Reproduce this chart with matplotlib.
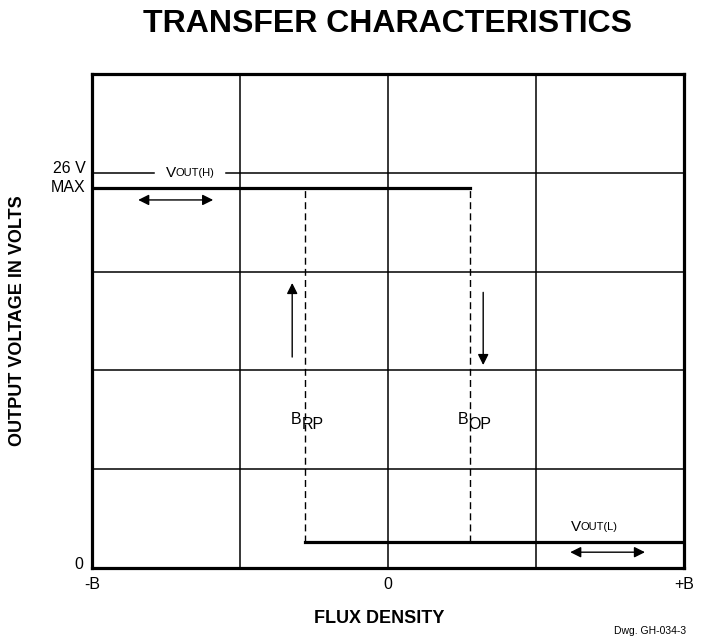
import matplotlib
matplotlib.use("Agg")
import matplotlib.pyplot as plt

plt.rcParams['font.family'] = ['Liberation Sans', 'DejaVu Sans']

# Значения кривой (в условных единицах сетки)
b_range = [-4, 4]          # -B ... +B
v_range = [0, 5]
v_high = 3.85              # уровень VOUT(H)
v_low = 0.27               # уровень VOUT(L)
v_max = 4                  # линия 26 V MAX
b_rp = -1.12               # точка отпускания
b_op = 1.1                 # точка срабатывания
grid_x = [-2, 0, 2]
grid_y = [1, 2, 3]
x_ticks = [-4, 0, 4]
x_tick_labels = ["-B", "0", "+B"]

fig = plt.figure(figsize=(7.09, 6.37), dpi=100)
ax = fig.add_axes([0.13, 0.108, 0.835, 0.776])
ax.set_xlim(b_range)
ax.set_ylim(v_range)

# сетка
for gx in grid_x:
    ax.axvline(gx, color='black', linewidth=1.1, zorder=1)
for gy in grid_y:
    ax.axhline(gy, color='black', linewidth=1.1, zorder=1)
# линия 26 V с разрывом под подпись VOUT(H)
ax.plot([b_range[0], -3.16], [v_max, v_max], color='black', linewidth=1.1, zorder=1)
ax.plot([-2.19, b_range[1]], [v_max, v_max], color='black', linewidth=1.1, zorder=1)

# выходные уровни
ax.plot([b_range[0], b_op], [v_high, v_high], color='black', linewidth=2.3, zorder=3)
ax.plot([b_rp, b_range[1]], [v_low, v_low], color='black', linewidth=2.3, zorder=3)
ax.plot([b_rp, b_rp], [v_low, v_high], color='black', linewidth=1.0, ls=(0, (5, 3)), zorder=2)
ax.plot([b_op, b_op], [v_low, v_high], color='black', linewidth=1.0, ls=(0, (5, 3)), zorder=2)

# стрелки
arr = dict(arrowstyle='-|>', color='black', lw=1.0, mutation_scale=16, shrinkA=0, shrinkB=0)
ax.annotate("", xy=(-1.297, 2.885), xytext=(-1.297, 2.136), arrowprops=arr)
ax.annotate("", xy=(1.284, 2.055), xytext=(1.284, 2.79), arrowprops=arr)
arr2 = dict(arrowstyle='<|-|>', color='black', lw=1.0, mutation_scale=16, shrinkA=0, shrinkB=0)
ax.annotate("", xy=(-3.378, 3.725), xytext=(-2.365, 3.725), arrowprops=arr2)
ax.annotate("", xy=(2.46, 0.162), xytext=(3.47, 0.162), arrowprops=arr2)

# подписи VOUT
ax.text(-2.87, 4.0, "V", fontsize=11, ha='right', va='center', zorder=5)
ax.text(-2.88, 4.0, "OUT(H)", fontsize=8, ha='left', va='center', zorder=5)
ax.text(2.61, 0.42, "V", fontsize=11, ha='right', va='center', zorder=5)
ax.text(2.60, 0.42, "OUT(L)", fontsize=8, ha='left', va='center', zorder=5)

ax.text(b_rp - 0.05, 1.5, "B", fontsize=11.5, ha='right', va='center', zorder=5)
ax.text(b_rp - 0.05, 1.45, "RP", fontsize=11.5, ha='left', va='center', zorder=5)
ax.text(b_op - 0.02, 1.5, "B", fontsize=11.5, ha='right', va='center', zorder=5)
ax.text(b_op - 0.02, 1.45, "OP", fontsize=11.5, ha='left', va='center', zorder=5)

# подписи оси Y
ax.text(-4.09, 4.04, "26 V", fontsize=11.5, ha='right', va='center')
ax.text(-4.09, 3.85, "MAX", fontsize=11.5, ha='right', va='center')
ax.text(-4.12, 0.04, "0", fontsize=11.5, ha='right', va='center')

ax.set_xticks(x_ticks)
ax.set_xticklabels(x_tick_labels, fontsize=11.5)
ax.set_yticks([])
ax.tick_params(axis='x', length=0, pad=6)
for s in ax.spines.values():
    s.set_linewidth(2.3)

fig.text(0.535, 0.029, "FLUX DENSITY", fontsize=13, fontweight='bold',
         ha='center', va='center')
fig.text(0.024, 0.496, "OUTPUT VOLTAGE IN VOLTS", fontsize=13, fontweight='bold',
         ha='center', va='center', rotation=90)
fig.text(0.547, 0.963, "TRANSFER CHARACTERISTICS", fontsize=23, fontweight='bold',
         ha='center', va='center')
fig.text(0.968, 0.001, "Dwg. GH-034-3", fontsize=7.5, ha='right', va='bottom')

fig.savefig("out.png", dpi=100)
